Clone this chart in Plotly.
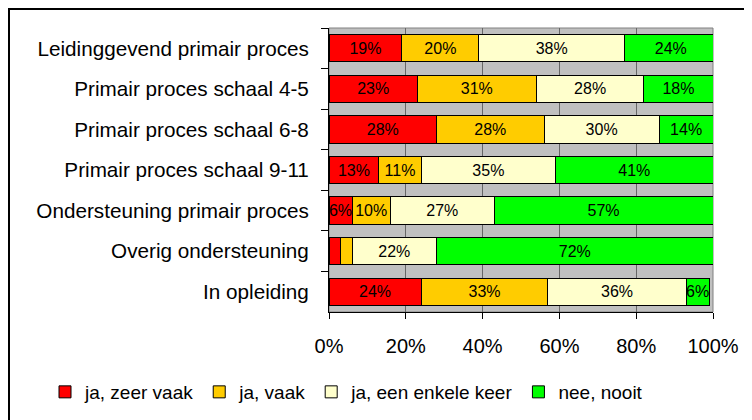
import plotly.graph_objects as go

categories = [
    "Leidinggevend primair proces",
    "Primair proces schaal 4-5",
    "Primair proces schaal 6-8",
    "Primair proces schaal 9-11",
    "Ondersteuning primair proces",
    "Overig ondersteuning",
    "In opleiding",
]
series_names = ["ja, zeer vaak", "ja, vaak", "ja, een enkele keer", "nee, nooit"]
zeer_vaak = [19, 23, 28, 13, 6, 3, 24]
vaak = [20, 31, 28, 11, 10, 3, 33]
enkele_keer = [38, 28, 30, 35, 27, 22, 36]
nooit = [24, 18, 14, 41, 57, 72, 6]
colors = ["#FF0000", "#FFCC00", "#FFFFCC", "#00FF00"]
x_ticks = [0, 20, 40, 60, 80, 100]

FONT = "Arial, Liberation Sans, sans-serif"

# page has an 8px body margin: figure coordinates = target - 8
W, H = 744, 412
PL, PR, PT, PB = 321, 705, 20, 304  # plot area in figure px
pw, ph = PR - PL, PB - PT

fig = go.Figure()
for name, vals, col in zip(series_names, [zeer_vaak, vaak, enkele_keer, nooit], colors):
    texts = [f"{v}%" if v >= 5 else "" for v in vals]
    fig.add_trace(go.Bar(
        y=categories, x=vals, name=name, orientation="h",
        marker=dict(color=col, line=dict(color="black", width=1)),
        text=texts, textposition="inside", insidetextanchor="middle",
        textangle=0, constraintext="none",
        textfont=dict(family=FONT, size=16, color="black"),
        hoverinfo="x+y+name",
    ))

fig.update_layout(
    width=W, height=H,
    barmode="stack", bargap=0.33,
    paper_bgcolor="white", plot_bgcolor="#C0C0C0",
    margin=dict(l=PL, r=W - PR, t=PT, b=H - PB, pad=0, autoexpand=False),
    font=dict(family=FONT, size=20, color="black"),
    showlegend=True,
    legend=dict(
        orientation="h",
        x=(37 - PL) / pw, xanchor="left",
        y=(PB - 384) / ph, yanchor="middle",
        font=dict(family=FONT, size=19, color="black"),
        traceorder="normal", itemwidth=30, bgcolor="rgba(0,0,0,0)",
    ),
    xaxis=dict(
        range=[0, 100], tickvals=x_ticks, ticktext=[f"{t}%" for t in x_ticks],
        showgrid=True, gridcolor="#666666", gridwidth=1,
        showline=True, linecolor="black", linewidth=1,
        ticks="outside", ticklen=6, tickcolor="black",
        ticklabelstandoff=10, zeroline=False, automargin=False,
        tickfont=dict(family=FONT, size=20),
    ),
    yaxis=dict(
        categoryorder="array", categoryarray=categories, autorange="reversed",
        showline=True, linecolor="black", linewidth=1,
        ticks="outside", ticklen=7, tickcolor="black", tickson="boundaries",
        ticklabelstandoff=15, showgrid=False, automargin=False,
        tickfont=dict(family=FONT, size=20.7),
    ),
    shapes=[
        dict(type="rect", xref="paper", yref="paper", x0=0, x1=1, y0=0, y1=1,
             line=dict(color="#808080", width=1), layer="below"),
        dict(type="rect", xref="paper", yref="paper",
             x0=(1 - PL) / pw, x1=(770 - PL) / pw,
             y0=(PB - 440) / ph, y1=(PB - 1) / ph,
             line=dict(color="black", width=2), layer="above"),
    ],
)

fig.write_html("out.html")
